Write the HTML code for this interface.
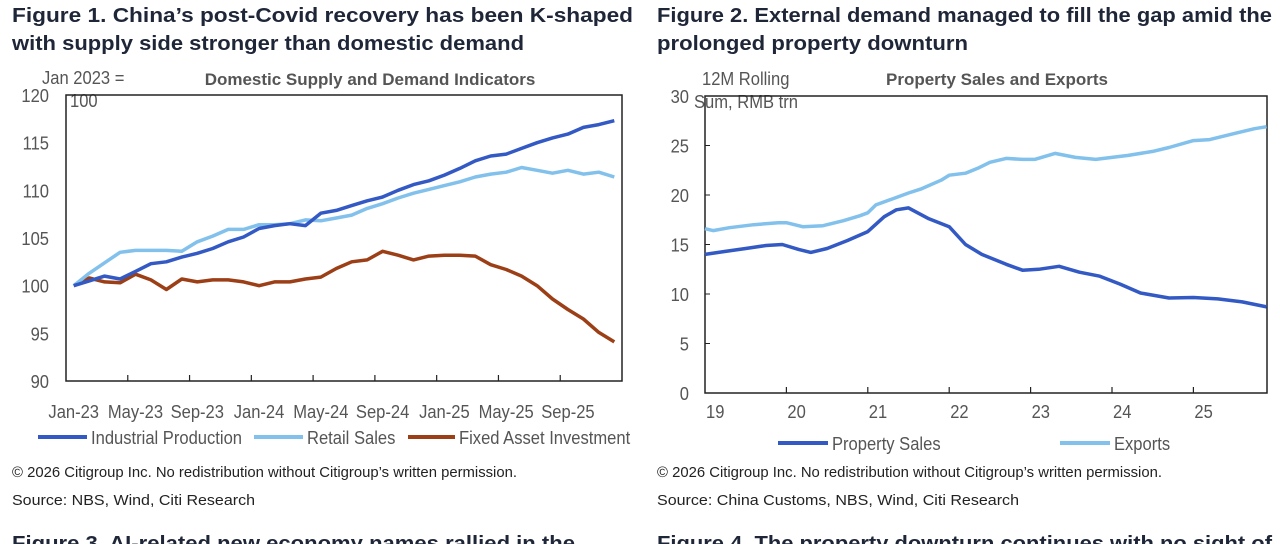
<!DOCTYPE html>
<html><head><meta charset="utf-8"><style>
html,body{margin:0;padding:0;background:#fff;}
svg{display:block;}
.h{font-family:"Liberation Sans",sans-serif;font-weight:bold;font-size:20px;fill:#1e2638;}
.f{font-family:"Liberation Sans",sans-serif;font-size:15px;fill:#222;}
.t{font-family:"Liberation Sans",sans-serif;font-size:18px;fill:#555;}
.ct{font-family:"Liberation Sans",sans-serif;font-size:17px;font-weight:bold;fill:#555;}
</style></head><body>
<svg id="s" width="1280" height="544" viewBox="0 0 1280 544" xmlns="http://www.w3.org/2000/svg">
<text class="h" x="12" y="22" textLength="621" lengthAdjust="spacingAndGlyphs">Figure 1. China’s post-Covid recovery has been K-shaped</text>
<text class="h" x="12" y="50" textLength="512" lengthAdjust="spacingAndGlyphs">with supply side stronger than domestic demand</text>
<text class="h" x="657" y="22" textLength="615" lengthAdjust="spacingAndGlyphs">Figure 2. External demand managed to fill the gap amid the</text>
<text class="h" x="657" y="50" textLength="311" lengthAdjust="spacingAndGlyphs">prolonged property downturn</text>
<text class="f" x="12" y="477" textLength="505" lengthAdjust="spacingAndGlyphs">© 2026 Citigroup Inc. No redistribution without Citigroup’s written permission.</text>
<text class="f" x="12" y="505" textLength="243" lengthAdjust="spacingAndGlyphs">Source: NBS, Wind, Citi Research</text>
<text class="f" x="657" y="477" textLength="505" lengthAdjust="spacingAndGlyphs">© 2026 Citigroup Inc. No redistribution without Citigroup’s written permission.</text>
<text class="f" x="657" y="505" textLength="362" lengthAdjust="spacingAndGlyphs">Source: China Customs, NBS, Wind, Citi Research</text>
<text class="h" x="12" y="550" textLength="563" lengthAdjust="spacingAndGlyphs">Figure 3. AI-related new economy names rallied in the</text>
<text class="h" x="657" y="550" textLength="615" lengthAdjust="spacingAndGlyphs">Figure 4. The property downturn continues with no sight of</text>

<text class="ct" x="370" y="85" text-anchor="middle">Domestic Supply and Demand Indicators</text>
<text class="t" x="42" y="84">Jan 2023 =</text>
<text class="t" x="70" y="107">100</text>
<text class="ct" x="997" y="85" text-anchor="middle">Property Sales and Exports</text>
<text class="t" x="702" y="85">12M Rolling</text>
<text class="t" x="694" y="108">Sum, RMB trn</text>
<g id="c1"></g><g id="c2"></g>
</svg>
<script>
// Chart 1 data
const months = [];
const mNames=["Jan","Feb","Mar","Apr","May","Jun","Jul","Aug","Sep","Oct","Nov","Dec"];
for(let y=23;y<=25;y++)for(const m of mNames)months.push(m+"-"+y);
const ipValues=[100,100.5,101,100.7,101.5,102.3,102.5,103,103.4,103.9,104.6,105.1,106,106.3,106.5,106.3,107.6,107.9,108.4,108.9,109.3,110,110.6,111,111.6,112.3,113.1,113.6,113.8,114.4,115,115.5,115.9,116.6,116.9,117.3];
const retailValues=[100,101.3,102.4,103.5,103.7,103.7,103.7,103.6,104.6,105.2,105.9,105.9,106.4,106.4,106.5,106.9,106.8,107.1,107.4,108.1,108.6,109.2,109.7,110.1,110.5,110.9,111.4,111.7,111.9,112.4,112.1,111.8,112.1,111.7,111.9,111.4];
const faiValues=[100,100.8,100.4,100.3,101.2,100.6,99.6,100.7,100.4,100.6,100.6,100.4,100.0,100.4,100.4,100.7,100.9,101.8,102.5,102.7,103.6,103.2,102.7,103.1,103.2,103.2,103.1,102.2,101.7,101.0,100.0,98.6,97.5,96.5,95.1,94.1];
const yTicks1=[90,95,100,105,110,115,120];
// Chart 2 data
const psDates=[2019.0,2019.25,2019.5,2019.75,2019.95,2020.15,2020.3,2020.5,2020.75,2021.0,2021.2,2021.35,2021.5,2021.75,2022.0,2022.2,2022.4,2022.7,2022.9,2023.1,2023.35,2023.6,2023.85,2024.1,2024.35,2024.7,2025.0,2025.3,2025.6,2025.9];
const psValues=[14.0,14.3,14.6,14.9,15.0,14.5,14.2,14.6,15.4,16.3,17.8,18.5,18.7,17.6,16.8,15.0,14.0,13.0,12.4,12.5,12.8,12.2,11.8,11.0,10.1,9.6,9.65,9.5,9.2,8.7];
const exDates=[2019.0,2019.1,2019.3,2019.6,2019.9,2020.0,2020.2,2020.45,2020.7,2020.9,2021.0,2021.1,2021.3,2021.5,2021.65,2021.9,2022.0,2022.2,2022.35,2022.5,2022.7,2022.9,2023.05,2023.3,2023.55,2023.8,2024.0,2024.2,2024.5,2024.7,2025.0,2025.2,2025.5,2025.75,2025.9];
const exValues=[16.6,16.4,16.7,17.0,17.2,17.2,16.8,16.9,17.4,17.9,18.2,19.0,19.6,20.2,20.6,21.5,22.0,22.2,22.7,23.3,23.7,23.6,23.6,24.2,23.8,23.6,23.8,24.0,24.4,24.8,25.5,25.6,26.2,26.7,26.9];
const yTicks2=[0,5,10,15,20,25,30];
const xYears=[19,20,21,22,23,24,25];

const NS="http://www.w3.org/2000/svg";
function mk(tag,attrs,parent,text){const e=document.createElementNS(NS,tag);for(const k in attrs)e.setAttribute(k,attrs[k]);if(text!==undefined)e.textContent=text;parent.appendChild(e);return e;}

// Chart 1
(function(){
const g=document.getElementById('c1');
const L=66,R=622,T=95,B=381;
const bw=(R-L)/months.length;
const x=i=>L+(i+0.5)*bw;
const y=v=>B-(v-90)/30*(B-T);
const box=mk('rect',{x:L,y:T,width:R-L,height:B-T,fill:'none',stroke:'#222','stroke-width':1.5},g);


yTicks1.forEach(v=>{const t=mk('text',{x:49,y:y(v)+7,'text-anchor':'end','class':'t'},g,String(v));

});
months.forEach((m,i)=>{
 if(i%4===0&&i>0){const tk=mk('line',{x1:L+i*bw,x2:L+i*bw,y1:B,y2:B-6,stroke:'#222','stroke-width':1.2},g);
 
 }
 if(i%4===0){const t=mk('text',{x:x(i),y:B+37,'text-anchor':'middle','class':'t'},g,m);
 
 }
});
const series=[[ipValues,'#3359c4','industrial-production-line'],[retailValues,'#82c1ec','retail-sales-line'],[faiValues,'#9c3f17','fixed-asset-investment-line']];
[series[2],series[1],series[0]].forEach(s=>{
 const p=mk('polyline',{points:s[0].map((v,i)=>x(i).toFixed(1)+','+y(v).toFixed(1)).join(' '),fill:'none',stroke:s[1],'stroke-width':3.5,'stroke-linejoin':'round'},g);
 
 
});
const leg=[[38,91,'Industrial Production','#3359c4'],[254,307,'Retail Sales','#82c1ec'],[408,459,'Fixed Asset Investment','#9c3f17']];
leg.forEach(l=>{
 const ln=mk('line',{x1:l[0],x2:l[1]-4,y1:437,y2:437,stroke:l[3],'stroke-width':4},g);
 
 
 const t=mk('text',{x:l[1],y:444,'class':'t'},g,l[2]);
 
 
});
})();

// Chart 2
(function(){
const g=document.getElementById('c2');
const L=705,R=1267,T=96,B=393;
const py=81.4;
const x=d=>L+(d-2019)*py;
const y=v=>B-v/30*(B-T);
const box=mk('rect',{x:L,y:T,width:R-L,height:B-T,fill:'none',stroke:'#222','stroke-width':1.5},g);


yTicks2.forEach(v=>{const t=mk('text',{x:689,y:y(v)+7,'text-anchor':'end','class':'t'},g,String(v));


 if(v>0&&v<30){const tk=mk('line',{x1:L,x2:L+5,y1:y(v),y2:y(v),stroke:'#222','stroke-width':1},g);
 
 }});
xYears.forEach(yr=>{
 const xx=x(2000+yr);
 if(yr>19){const tk=mk('line',{x1:xx,x2:xx,y1:B,y2:B-6,stroke:'#222','stroke-width':1.2},g);
 
 }
 const t=mk('text',{x:xx+1,y:B+25,'class':'t'},g,String(yr));
 
 
});
const p1=mk('polyline',{points:exDates.map((d,i)=>x(d).toFixed(1)+','+y(exValues[i]).toFixed(1)).join(' '),fill:'none',stroke:'#82c1ec','stroke-width':3.5,'stroke-linejoin':'round'},g);


const p2=mk('polyline',{points:psDates.map((d,i)=>x(d).toFixed(1)+','+y(psValues[i]).toFixed(1)).join(' '),fill:'none',stroke:'#3359c4','stroke-width':3.5,'stroke-linejoin':'round'},g);


const leg=[[778,832,'Property Sales','#3359c4'],[1060,1114,'Exports','#82c1ec']];
leg.forEach(l=>{
 const ln=mk('line',{x1:l[0],x2:l[1]-4,y1:443,y2:443,stroke:l[3],'stroke-width':4},g);
 
 
 const t=mk('text',{x:l[1],y:450,'class':'t'},g,l[2]);
 
 
});
})();
// condense chart text to mimic narrow font
document.querySelectorAll('text.t').forEach(t=>{
 const w=t.getComputedTextLength();
 t.setAttribute('textLength',(w*0.92).toFixed(1));
 t.setAttribute('lengthAdjust','spacingAndGlyphs');
});
</script>
</body></html>
